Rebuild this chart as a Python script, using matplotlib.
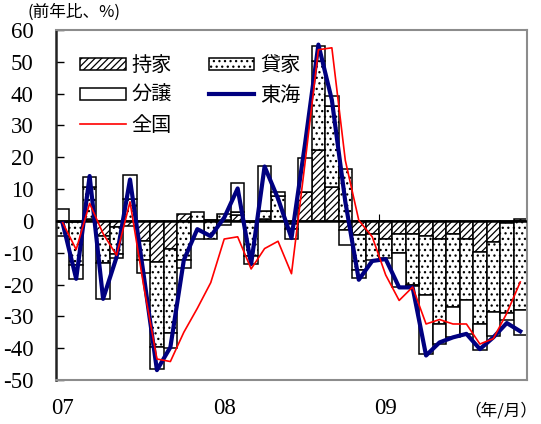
import numpy as np
import matplotlib
matplotlib.use('Agg')
import matplotlib.pyplot as plt
from matplotlib.patches import Patch
from matplotlib.lines import Line2D

# monthly series, Jan 2007 .. Nov 2009 (前年比, %)
months = np.arange(35)
year_ticks = [0, 12, 24]
year_labels = ['07', '08', '09']

# contributions by type (持家 / 貸家 / 分譲)
own = [-0.5, -0.5, 0.5, -4.7, -2.0, -1.7, -6.3, -12.9, -8.7, 2.3,
       0.0, 0.3, 0.4, 1.8, -0.5, 0.5, 0.0, -1.0, 9.1, 22.3,
       10.7, -2.9, -4.5, -4.0, -5.6, -4.0, -4.0, -4.7, -5.6, -4.0,
       -5.6, -9.8, -6.6, -0.8, 0.7]
rent = [-4.3, -13.5, 10.0, -8.6, -8.3, 7.0, -6.0, -26.8, -26.6, -12.4,
        2.8, -5.6, 1.7, 1.0, -10.5, 2.5, 7.8, -1.5, 0.0, 27.8,
        25.5, 16.2, -11.0, -8.4, -6.1, -6.1, -16.1, -18.7, -26.8, -23.1,
        -19.2, -22.6, -21.9, -28.0, -27.9]
sale = [3.6, -4.4, 3.4, -11.2, -1.4, 7.4, -4.0, -6.9, -4.7, -2.3,
        -5.6, 0.0, -1.4, 9.2, -2.5, 14.2, 1.2, -3.1, 10.6, 5.0,
        2.9, -4.7, -2.6, 0.0, 0.0, -10.7, -0.4, -18.4, -6.3, -9.5,
        -10.7, -8.1, -7.8, -2.5, -8.0]

# totals
tokai = [-0.8, -18.2, 14.1, -24.5, -11.4, 13.0, -16.5, -46.9, -39.7, -12.3,
         -2.6, -4.8, 1.0, 10.2, -13.6, 17.1, 7.0, -5.4, 24.0, 55.4,
         38.0, 6.0, -18.5, -12.6, -12.0, -20.9, -20.9, -42.3, -38.2, -36.6,
         -35.5, -40.3, -36.6, -32.1, -34.7]
japan = [-0.6, -9.0, 5.5, -4.0, -10.8, 6.0, -20.0, -43.4, -44.2, -35.0,
         -27.5, -19.4, -5.7, -5.0, -15.1, -8.7, -6.4, -16.6, 18.0, 53.8,
         54.4, 19.0, 0.2, -5.0, -17.0, -25.0, -20.8, -32.4, -31.0, -32.4,
         -32.4, -38.7, -37.0, -29.0, -19.2]

serif = 'Liberation Serif'
cjk = 'Noto Sans CJK JP'
plt.rcParams['hatch.linewidth'] = 0.9
plt.rcParams['hatch.color'] = 'black'
plt.rcParams['axes.unicode_minus'] = False

fig = plt.figure(figsize=(5.41, 4.24), dpi=100)
ax = fig.add_axes([0.1035, 0.1038, 0.8706, 0.8255])

# stacked bars: positives stack up from zero, negatives stack down
pos_base = np.zeros(len(months))
neg_base = np.zeros(len(months))
for vals, hatch in [(own, '/////'), (rent, '...'), (sale, '')]:
    v = np.asarray(vals, dtype=float)
    bottom = np.where(v >= 0, pos_base, neg_base)
    ax.bar(months, v, width=1.0, bottom=bottom, color='white',
           edgecolor='black', hatch=hatch, linewidth=1.1, zorder=2)
    pos_base += np.clip(v, 0, None)
    neg_base += np.clip(v, None, 0)

ax.plot(months, tokai, color='#000080', lw=3.0, zorder=4)
ax.plot(months, japan, color='#ff0000', lw=1.2, zorder=5)

ax.axhline(0, color='black', lw=1.8, zorder=3)
# small year-boundary marks on the zero line
ax.vlines([y - 0.5 for y in year_ticks[1:]], 0, 2.3, color='black', lw=0.8, zorder=3)

ax.set_xlim(-0.5, len(months) - 0.5)
ax.set_ylim(-50, 60)
ax.set_yticks(np.arange(-50, 61, 10))
ax.set_xticks(year_ticks)
ax.set_xticklabels(year_labels)
ax.tick_params(axis='y', direction='in', length=6, width=1, pad=16,
               labelsize=16.5)
ax.tick_params(axis='x', length=0, pad=13, labelsize=16.5)
for lab in ax.get_xticklabels() + ax.get_yticklabels():
    lab.set_fontfamily(serif)

for side in ['top', 'right', 'bottom']:
    ax.spines[side].set_color('#8c8c8c')
    ax.spines[side].set_linewidth(1.5)
ax.spines['left'].set_color('#222222')
ax.spines['left'].set_linewidth(1.8)

handles = [
    Patch(facecolor='white', edgecolor='black', hatch='/////', lw=1.1),
    Patch(facecolor='white', edgecolor='black', lw=1.1),
    Line2D([], [], color='#ff0000', lw=1.2),
    Patch(facecolor='white', edgecolor='black', hatch='...', lw=1.1),
    Line2D([], [], color='#000080', lw=3.0),
]
labels = ['持家', '分譲', '全国', '貸家', '東海']
ax.legend(handles, labels, ncol=2, loc='upper left',
          bbox_to_anchor=(0.03, 0.958), frameon=False, borderpad=0,
          handlelength=2.25, handleheight=0.55, handletextpad=0.3,
          columnspacing=1.85, labelspacing=0.45,
          prop={'family': cjk, 'size': 14.5})

fig.text(0.05, 0.972, '(前年比、%)', family=cjk, fontsize=12, va='center')
fig.text(0.993, 0.03, '（年/月）', family=cjk, fontsize=12, ha='right', va='center')

fig.savefig('out.png', dpi=100)
